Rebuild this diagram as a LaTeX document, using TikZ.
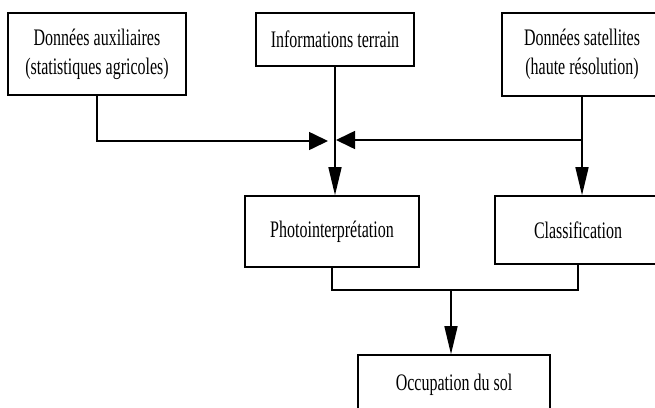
\documentclass[tikz,border=0pt]{standalone}
\usepackage{fontspec}
\setmainfont{Liberation Serif}[FakeStretch=0.675]
\usetikzlibrary{arrows.meta}
\begin{document}
\begin{tikzpicture}[x=1pt,y=-1pt,
  box/.style={draw,line width=1.6pt,rectangle,inner sep=0pt,align=center,
    font=\fontsize{23.7}{29}\selectfont},
  conn/.style={line width=1.6pt},
  harrow/.style={conn,-{Triangle[length=19pt,width=18pt]}},
  varrow/.style={conn,-{Triangle[length=28pt,width=13pt]}}]
\clip (0,0) rectangle (655,407);
\fill[white] (0,0) rectangle (655,407);
\node[box,minimum width=178pt,minimum height=82pt] (b1) at (97,54) {Données auxiliaires\\(statistiques agricoles)};
\node[box,minimum width=158pt,minimum height=53pt] (b2) at (335,39.5) {Informations terrain};
\node[box,minimum width=160pt,minimum height=83pt] (b3) at (582,54.5) {Données satellites\\(haute résolution)};
\node[box,minimum width=174pt,minimum height=71pt] (ph) at (332,231.5) {Photointerprétation};
\node[box,minimum width=166pt,minimum height=68pt] (cl) at (578,230) {Classification};
\node[box,minimum width=192pt,minimum height=60pt] (oc) at (454,385) {Occupation du sol};
\coordinate (jl) at (328,141);
\coordinate (jr) at (336,140);
\coordinate (jm) at (451,290);
\draw[harrow] (b1.south) |- (jl);
\draw[varrow] (b2.south) -- (b2.south |- ph.north);
\draw[varrow] (b3.south) -- (b3.south |- cl.north);
\draw[harrow] (b3.south |- jr) -- (jr);
\draw[conn] (ph.south) |- (jm);
\draw[conn] (cl.south) |- (jm);
\draw[varrow] (jm) -- (jm |- oc.north);
\end{tikzpicture}
\end{document}
